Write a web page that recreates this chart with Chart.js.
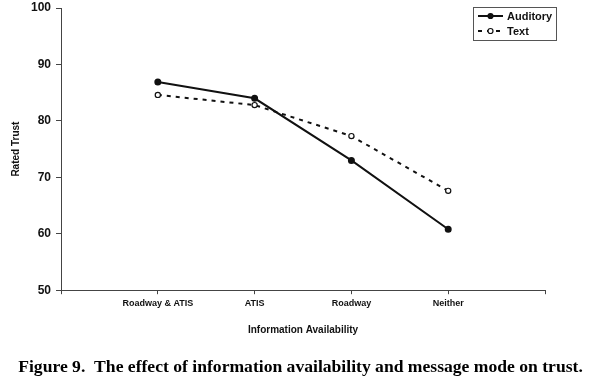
<!DOCTYPE html>
<html>
<head>
<meta charset="utf-8">
<script src="https://cdn.jsdelivr.net/npm/chart.js@4/dist/chart.umd.min.js"></script>
<style>
  html, body { margin: 0; padding: 0; background: #fff; }
  #wrap { position: relative; width: 591px; height: 382px; }
</style>
</head>
<body>
<div id="wrap"><canvas id="trustChart" width="591" height="382"></canvas></div>
<script>
const categories = ['Roadway & ATIS', 'ATIS', 'Roadway', 'Neither'];
const auditory = [86.9, 84.0, 73.0, 60.8];
const textMode = [84.6, 82.8, 77.3, 67.6];
const yTicks = [50, 60, 70, 80, 90, 100];
const caption = 'Figure 9.  The effect of information availability and message mode on trust.';

const toPoints = vals => vals.map((v, i) => ({ x: i + 1, y: v }));

// legend drawn inside the plot, top right, like the original figure
const boxLegend = {
  id: 'boxLegend',
  afterDraw(chart) {
    const ctx = chart.ctx;
    const x = 473, y = 7, w = 83, h = 33;
    ctx.save();
    ctx.fillStyle = '#fff';
    ctx.fillRect(x, y, w, h);
    ctx.strokeStyle = '#555';
    ctx.lineWidth = 1;
    ctx.strokeRect(x + 0.5, y + 0.5, w, h);
    chart.data.datasets.forEach((ds, i) => {
      const cy = y + 9 + i * 15;
      ctx.strokeStyle = '#111';
      ctx.lineWidth = 2;
      ctx.setLineDash(ds.borderDash || []);
      ctx.beginPath();
      ctx.moveTo(x + 5, cy);
      ctx.lineTo(x + 30, cy);
      ctx.stroke();
      ctx.setLineDash([]);
      ctx.beginPath();
      ctx.arc(x + 17.5, cy, 2.5, 0, Math.PI * 2);
      ctx.fillStyle = ds.pointBackgroundColor;
      ctx.fill();
      ctx.lineWidth = 1.2;
      ctx.stroke();
      ctx.fillStyle = '#111';
      ctx.font = 'bold 11px "Liberation Sans", Arial, sans-serif';
      ctx.textBaseline = 'middle';
      ctx.fillText(ds.label, x + 34, cy + 1);
    });
    ctx.restore();
  }
};

// figure caption under the chart, centred on the page
const figCaption = {
  id: 'figCaption',
  afterDraw(chart) {
    const ctx = chart.ctx;
    ctx.save();
    ctx.fillStyle = '#000';
    ctx.font = 'bold 17.6px "Liberation Serif", "Times New Roman", serif';
    ctx.textAlign = 'center';
    ctx.textBaseline = 'alphabetic';
    ctx.fillText(caption, chart.width / 2 + 5, 372);
    ctx.restore();
  }
};

new Chart(document.getElementById('trustChart'), {
  type: 'line',
  data: {
    datasets: [
      {
        label: 'Auditory',
        data: toPoints(auditory),
        borderColor: '#111',
        borderWidth: 2,
        pointRadius: 2.5,
        pointBackgroundColor: '#111',
        pointBorderColor: '#111',
        tension: 0
      },
      {
        label: 'Text',
        data: toPoints(textMode),
        borderColor: '#111',
        borderWidth: 2,
        borderDash: [4, 5],
        pointRadius: 2.6,
        pointBorderWidth: 1.2,
        pointBackgroundColor: '#fff',
        pointBorderColor: '#111',
        tension: 0
      }
    ]
  },
  options: {
    responsive: false,
    animation: false,
    layout: { padding: { left: 10, right: 46, top: 8, bottom: 46 } },
    plugins: {
      legend: { display: false },
      tooltip: { enabled: false },
      title: { display: false }
    },
    scales: {
      x: {
        type: 'linear',
        min: 0,
        max: categories.length + 1,
        border: { color: '#444', width: 1 },
        grid: { display: true, drawOnChartArea: false, drawTicks: true, tickLength: 4, color: '#444' },
        ticks: {
          stepSize: 1,
          color: '#111',
          padding: 4,
          font: { family: '"Liberation Sans", Arial, sans-serif', size: 9, weight: 'bold' },
          callback: v => categories[v - 1] || ''
        },
        title: {
          display: true,
          text: 'Information Availability',
          color: '#111',
          font: { family: '"Liberation Sans", Arial, sans-serif', size: 10, weight: 'bold' },
          padding: { top: 11, bottom: 0 }
        }
      },
      y: {
        min: yTicks[0],
        max: yTicks[yTicks.length - 1],
        afterBuildTicks: axis => { axis.ticks = yTicks.map(v => ({ value: v })); },
        // let the top label overhang the padding instead of pushing the plot down
        afterFit: axis => { axis.paddingTop = 0; axis.paddingBottom = 0; },
        border: { color: '#444', width: 1 },
        grid: { display: true, drawOnChartArea: false, tickLength: 5, color: '#444' },
        ticks: {
          color: '#111',
          padding: 5,
          font: { family: '"Liberation Sans", Arial, sans-serif', size: 12, weight: 'bold' }
        },
        title: {
          display: true,
          text: 'Rated Trust',
          color: '#111',
          font: { family: '"Liberation Sans", Arial, sans-serif', size: 10, weight: 'bold' },
          padding: { top: 0, bottom: 4 }
        }
      }
    }
  },
  plugins: [boxLegend, figCaption]
});
</script>
</body>
</html>
